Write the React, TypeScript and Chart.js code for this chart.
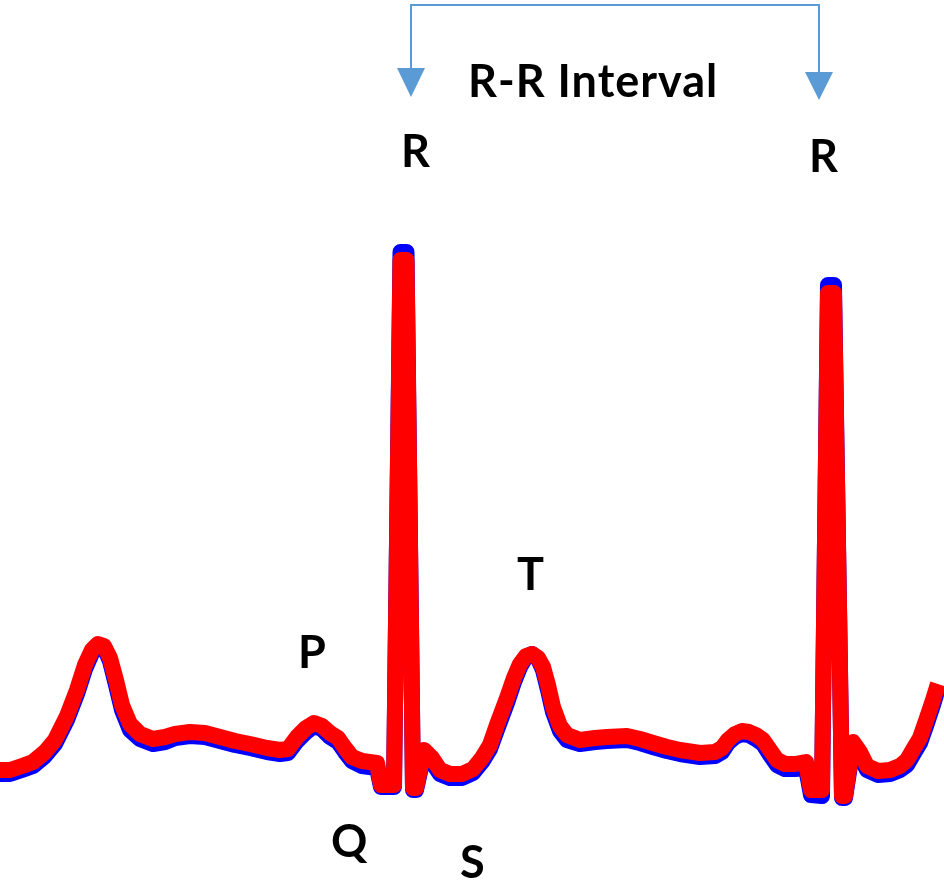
import React, { useEffect, useRef } from "react";
import { Chart, registerables } from "chart.js";

Chart.register(...registerables);

// sample index (time) and amplitudes (arbitrary units, baseline ~ 40)
const time = [
  0, 10, 22, 33, 45, 55, 67, 77, 85, 92, 98, 104, 110, 116, 122, 130, 140, 153, 165, 175,
  190, 205, 220, 235, 250, 267, 280, 288, 297, 306, 314, 322, 330, 338, 345, 352, 362, 377,
  381, 394, 400.5, 406.5, 413, 416, 424, 432, 440, 450, 462, 473, 482, 490, 498, 507, 514, 520, 526,
  532, 538, 543, 548, 553, 560, 567, 580, 595, 607, 627, 640, 653, 667, 680, 700, 715, 722,
  728, 735, 742, 749, 756, 763, 770, 777, 785, 795, 806, 811, 822, 828, 834, 842, 845, 853, 860,
  867, 878, 890, 900, 907, 914, 920, 927, 933, 938,
];

const filteredEcg = [
  30, 30, 34, 38, 48, 60, 84, 110, 135, 150, 156, 154, 142, 120, 95, 76, 66, 61, 63, 66,
  68, 67, 63, 59, 56, 52, 50, 51, 63, 72, 77, 74, 67, 62, 52, 43, 39, 37,
  15, 15, 540, 540, 12, 12, 50, 42, 30, 26, 26, 31, 42, 55, 78, 102, 122, 136, 144,
  146, 142, 133, 115, 93, 74, 65, 60, 62, 63, 64, 61, 57, 53, 50, 47, 48, 52,
  60, 66, 69, 68, 65, 60, 50, 40, 36, 36, 38, 10, 10, 507, 507, 4, 4, 58, 48,
  34, 29, 30, 34, 40, 52, 62, 82, 100, 116,
];

const rawEcg = [
  26, 26, 30, 34, 44, 56, 80, 106, 131, 147, 154, 153, 139, 115, 90, 70, 61, 56, 58, 62,
  64, 63, 59, 55, 52, 48, 46, 47, 59, 68, 74, 71, 63, 58, 48, 39, 34, 32,
  13, 13, 548, 548, 10, 10, 46, 38, 26, 22, 22, 27, 38, 51, 73, 97, 118, 133, 143,
  146, 141, 130, 110, 88, 69, 60, 56, 58, 59, 60, 57, 53, 49, 46, 43, 44, 48,
  57, 63, 66, 65, 61, 56, 45, 35, 31, 31, 32, 5, 4, 515, 515, 2, 2, 54, 44,
  30, 25, 26, 30, 35, 47, 57, 77, 95, 112,
];

// annotation texts (left x, baseline y in data units)
const labelText = ["R-R Interval", "R", "R", "T", "P", "Q", "S"];
const labelX = [468, 401, 809, 517, 298, 331, 460];
const labelY = [703, 633, 628, 210, 132, -57, -78];

// R-R interval bracket
const bracketX = [411, 819];
const bracketTop = 795;
const arrowBase = [732, 728];
const arrowTip = [703, 700];
const arrowHalf = 14;

const annotationPlugin = {
  id: "ecgAnnotations",
  afterDatasetsDraw(chart: any) {
    const ctx = chart.ctx;
    const xs = chart.scales.x;
    const ys = chart.scales.y;
    ctx.save();
    // bracket
    ctx.strokeStyle = "#5B9BD5";
    ctx.fillStyle = "#5B9BD5";
    ctx.lineWidth = 2;
    ctx.beginPath();
    ctx.moveTo(xs.getPixelForValue(bracketX[0]), ys.getPixelForValue(arrowBase[0]));
    ctx.lineTo(xs.getPixelForValue(bracketX[0]), ys.getPixelForValue(bracketTop));
    ctx.lineTo(xs.getPixelForValue(bracketX[1]), ys.getPixelForValue(bracketTop));
    ctx.lineTo(xs.getPixelForValue(bracketX[1]), ys.getPixelForValue(arrowBase[1]));
    ctx.stroke();
    for (let i = 0; i < 2; i++) {
      ctx.beginPath();
      ctx.moveTo(xs.getPixelForValue(bracketX[i] - arrowHalf), ys.getPixelForValue(arrowBase[i]));
      ctx.lineTo(xs.getPixelForValue(bracketX[i] + arrowHalf), ys.getPixelForValue(arrowBase[i]));
      ctx.lineTo(xs.getPixelForValue(bracketX[i]), ys.getPixelForValue(arrowTip[i]));
      ctx.closePath();
      ctx.fill();
    }
    // labels
    ctx.fillStyle = "#000000";
    ctx.font = "bold 45px Lato";
    ctx.textAlign = "left";
    ctx.textBaseline = "alphabetic";
    try {
      ctx.letterSpacing = "1px";
    } catch (e) {}
    for (let i = 0; i < labelText.length; i++) {
      ctx.fillText(labelText[i], xs.getPixelForValue(labelX[i]), ys.getPixelForValue(labelY[i]));
    }
    ctx.restore();
  },
};

export default function App() {
  const canvasRef = useRef<HTMLCanvasElement | null>(null);

  useEffect(() => {
    document.body.style.margin = "0";
    if (!canvasRef.current) return;
    const red = time.map((t, i) => ({ x: t, y: filteredEcg[i] }));
    const blue = time.map((t, i) => ({ x: t, y: rawEcg[i] }));
    const common = {
      borderWidth: 16,
      borderJoinStyle: "round" as const,
      borderCapStyle: "butt" as const,
      pointRadius: 0,
      tension: 0,
      fill: false,
      clip: false as any,
    };
    const chart = new Chart(canvasRef.current, {
      type: "line",
      data: {
        datasets: [
          { label: "Filtered", data: red, borderColor: "#FF0000", order: 1, ...common },
          { label: "Raw", data: blue, borderColor: "#0000FF", order: 2, ...common },
        ],
      },
      options: {
        animation: false,
        responsive: true,
        maintainAspectRatio: false,
        layout: { padding: 0 },
        events: [],
        plugins: {
          legend: { display: false },
          tooltip: { enabled: false },
          title: { display: false },
        },
        scales: {
          x: { type: "linear", min: 0, max: 944, display: false },
          y: { type: "linear", min: -85, max: 800, display: false },
        },
      },
      plugins: [annotationPlugin],
    });
    return () => chart.destroy();
  }, []);

  return (
    <div style={{ position: "absolute", left: 0, top: 0, width: 944, height: 885, background: "#fff" }}>
      <canvas ref={canvasRef} />
    </div>
  );
}
